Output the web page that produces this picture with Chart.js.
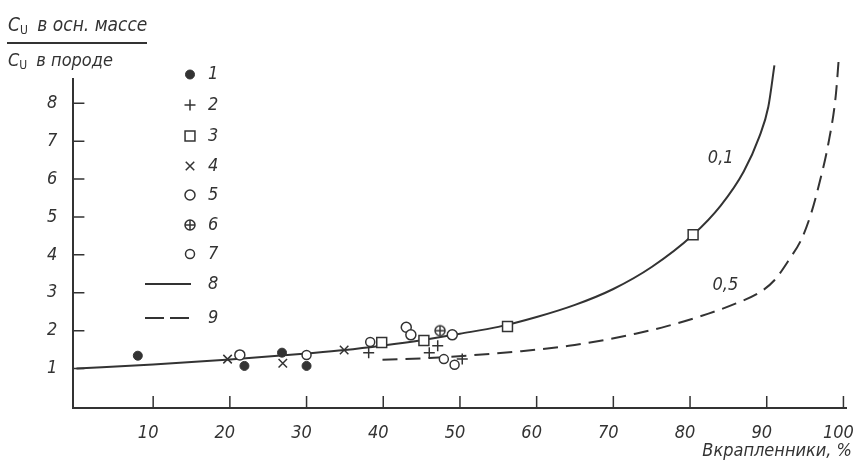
<!DOCTYPE html>
<html>
<head>
<meta charset="utf-8">
<script src="https://cdn.jsdelivr.net/npm/chart.js@4.4.1/dist/chart.umd.min.js"></script>
<style>
  html, body { margin: 0; padding: 0; background: #fff; }
  #wrap { position: relative; width: 855px; height: 463px; }
  #wrap canvas { position: absolute; left: 0; top: 0; }
  .ttl {
    position: absolute; left: 8px; white-space: nowrap; line-height: 1;
    font-family: 'Liberation Sans Narrow', 'DejaVu Sans Condensed', sans-serif;
    font-style: italic; font-size: 18px; color: #333;
  }
  .ttl sub { font-style: normal; font-size: 12px; vertical-align: -3px; margin-right: 4px; }
  #bar { position: absolute; left: 7px; top: 42px; width: 140px; height: 2px; background: #333; }
</style>
</head>
<body>
<div id="wrap">
  <canvas id="chart" width="855" height="463"></canvas>
  <div class="ttl" style="top:15px;font-size:19px">C<sub>U</sub> в осн. массе</div>
  <div id="bar"></div>
  <div class="ttl" style="top:51px">C<sub>U</sub> в породе</div>
</div>
<script>
// Axis ticks and labels
const xTicks = [10, 20, 30, 40, 50, 60, 70, 80, 90, 100];
const yTicks = [1, 2, 3, 4, 5, 6, 7, 8];
const legendLabels = ['1', '2', '3', '4', '5', '6', '7', '8', '9'];
const curveLabels = ['0,1', '0,5'];
const xTitle = 'Вкрапленники, %';

// Measured samples, groups 1–7
const s1X = [8.0, 21.9, 26.8, 30.0];
const s1Y = [1.34, 1.07, 1.42, 1.07];
const s2X = [38.1, 46.0, 47.1, 50.3];
const s2Y = [1.42, 1.42, 1.60, 1.25];
const s3X = [39.8, 45.3, 56.2, 80.4];
const s3Y = [1.69, 1.74, 2.11, 4.53];
const s4X = [19.7, 26.9, 34.9];
const s4Y = [1.25, 1.14, 1.49];
const s5X = [21.3, 43.0, 43.6, 49.0];
const s5Y = [1.36, 2.09, 1.89, 1.89];
const s6X = [47.4];
const s6Y = [2.0];
const s7X = [30.0, 38.3, 47.9, 49.3];
const s7Y = [1.36, 1.70, 1.25, 1.10];

// Curve 8 (coefficient 0,1) and curve 9 (coefficient 0,5)
const c8X = [0, 10, 20, 30, 35, 40, 45, 50, 55, 60, 65, 70, 75, 80.4, 84, 87, 89, 90.2, 91.0];
const c8Y = [1.0, 1.11, 1.24, 1.40, 1.49, 1.61, 1.75, 1.92, 2.10, 2.36, 2.68, 3.10, 3.68, 4.53, 5.30, 6.20, 7.10, 7.90, 9.0];
const c9X = [39.9, 46, 51.5, 58, 64.2, 69, 72.9, 77, 82.4, 86, 89, 91, 93, 94.5, 95.8, 97, 98, 99, 99.4];
const c9Y = [1.23, 1.28, 1.35, 1.46, 1.60, 1.76, 1.92, 2.12, 2.45, 2.72, 3.00, 3.33, 3.90, 4.40, 5.10, 6.00, 6.90, 8.20, 9.2];

const INK = '#333';
const FONT = "'Liberation Sans Narrow', 'DejaVu Sans Condensed', sans-serif";

const pts = (xs, ys) => xs.map((x, i) => ({ x: x, y: ys[i] }));

// circle with a plus inside, for group 6
function circlePlus() {
  const c = document.createElement('canvas');
  c.width = 14; c.height = 14;
  const g = c.getContext('2d');
  g.strokeStyle = INK; g.lineWidth = 1.5; g.fillStyle = '#fff';
  g.beginPath(); g.arc(7, 7, 5, 0, Math.PI * 2); g.fill(); g.stroke();
  g.beginPath(); g.moveTo(2, 7); g.lineTo(12, 7); g.moveTo(7, 2); g.lineTo(7, 12); g.stroke();
  return c;
}

const markerSets = [
  { label: legendLabels[0], data: pts(s1X, s1Y), pointStyle: 'circle', pointRadius: 4.5, backgroundColor: INK, borderColor: INK, pointBorderWidth: 1 },
  { label: legendLabels[1], data: pts(s2X, s2Y), pointStyle: 'cross', pointRadius: 5.5, backgroundColor: INK, borderColor: INK, pointBorderWidth: 1.5 },
  { label: legendLabels[2], data: pts(s3X, s3Y), pointStyle: 'rect', pointRadius: 7, backgroundColor: '#fff', borderColor: INK, pointBorderWidth: 1.5 },
  { label: legendLabels[3], data: pts(s4X, s4Y), pointStyle: 'crossRot', pointRadius: 6, backgroundColor: INK, borderColor: INK, pointBorderWidth: 1.5 },
  { label: legendLabels[4], data: pts(s5X, s5Y), pointStyle: 'circle', pointRadius: 5, backgroundColor: '#fff', borderColor: INK, pointBorderWidth: 1.5 },
  { label: legendLabels[5], data: pts(s6X, s6Y), pointStyle: circlePlus(), pointRadius: 6, backgroundColor: '#fff', borderColor: INK, pointBorderWidth: 1.5 },
  { label: legendLabels[6], data: pts(s7X, s7Y), pointStyle: 'circle', pointRadius: 4.5, backgroundColor: '#fff', borderColor: INK, pointBorderWidth: 1.5 }
].map(d => Object.assign(d, { showLine: false, order: 0 }));

const curveSets = [
  { label: legendLabels[7], data: pts(c8X, c8Y), borderColor: INK, borderWidth: 2, borderDash: [], keyDash: [] },
  { label: legendLabels[8], data: pts(c9X, c9Y), borderColor: INK, borderWidth: 2, borderDash: [15, 8], keyDash: [19, 6] }
].map(d => Object.assign(d, { showLine: true, pointRadius: 0, cubicInterpolationMode: 'monotone', clip: false, order: 1 }));

// tick marks pointing into the plot, legend, curve captions
const decor = {
  id: 'decor',
  afterDraw(chart) {
    const ctx = chart.ctx, xs = chart.scales.x, ys = chart.scales.y, a = chart.chartArea;
    ctx.save();
    ctx.strokeStyle = INK; ctx.lineWidth = 1.5;
    ctx.beginPath();
    xTicks.forEach(v => { const p = xs.getPixelForValue(v); ctx.moveTo(p, a.bottom); ctx.lineTo(p, a.bottom - 12); });
    yTicks.forEach(v => { const p = ys.getPixelForValue(v); ctx.moveTo(a.left, p); ctx.lineTo(a.left + 11, p); });
    ctx.stroke();

    // legend
    const rows = [74.5, 105, 136, 166, 195, 225, 254, 284, 318];
    ctx.font = 'italic 18px ' + FONT;
    ctx.fillStyle = INK; ctx.textAlign = 'left'; ctx.textBaseline = 'middle';
    markerSets.forEach((d, i) => {
      ctx.save();
      ctx.fillStyle = d.backgroundColor; ctx.strokeStyle = d.borderColor; ctx.lineWidth = d.pointBorderWidth;
      Chart.helpers.drawPoint(ctx, { pointStyle: d.pointStyle, radius: d.pointRadius, borderWidth: d.pointBorderWidth, rotation: 0 }, 190, rows[i]);
      ctx.restore();
      ctx.fillText(d.label, 208, rows[i]);
    });
    curveSets.forEach((d, i) => {
      const y = rows[7 + i];
      ctx.save();
      ctx.strokeStyle = d.borderColor; ctx.lineWidth = d.borderWidth; ctx.setLineDash(d.keyDash);
      ctx.beginPath(); ctx.moveTo(145, y); ctx.lineTo(191, y); ctx.stroke();
      ctx.restore();
      ctx.fillText(d.label, 208, y);
    });

    // curve captions
    ctx.textAlign = 'center';
    ctx.fillText(curveLabels[0], xs.getPixelForValue(84.0), ys.getPixelForValue(6.56));
    ctx.fillText(curveLabels[1], xs.getPixelForValue(84.6), ys.getPixelForValue(3.2));

    // axis title
    ctx.textAlign = 'right';
    ctx.fillText(xTitle, 852, 451);
    ctx.restore();
  }
};

Chart.defaults.font.family = FONT;
Chart.defaults.font.style = 'italic';
Chart.defaults.font.size = 18;
Chart.defaults.color = INK;

new Chart(document.getElementById('chart'), {
  type: 'scatter',
  data: { datasets: markerSets.concat(curveSets) },
  options: {
    responsive: false,
    animation: false,
    events: [],
    layout: { padding: { top: 79, right: 7, left: 0, bottom: 0 } },
    plugins: { legend: { display: false }, tooltip: { enabled: false }, title: { display: false } },
    scales: {
      x: {
        type: 'linear', min: -0.4, max: 100.4,
        afterBuildTicks: s => { s.ticks = xTicks.map(v => ({ value: v })); },
        afterFit: s => { s.height = 55; s.paddingLeft = 0; s.paddingRight = 0; },
        grid: { display: false, drawTicks: false },
        border: { display: true, color: INK, width: 2 },
        ticks: { padding: 15, labelOffset: -5, maxRotation: 0, autoSkip: false, font: { size: 18, style: 'italic' } }
      },
      y: {
        type: 'linear', min: -0.04, max: 8.64,
        afterBuildTicks: s => { s.ticks = yTicks.map(v => ({ value: v })); },
        afterFit: s => { s.width = 73.4; s.paddingTop = 0; s.paddingBottom = 0; },
        grid: { display: false, drawTicks: false },
        border: { display: true, color: INK, width: 2 },
        ticks: { padding: 16, autoSkip: false, font: { size: 18, style: 'italic' } }
      }
    }
  },
  plugins: [decor]
});
</script>
</body>
</html>
